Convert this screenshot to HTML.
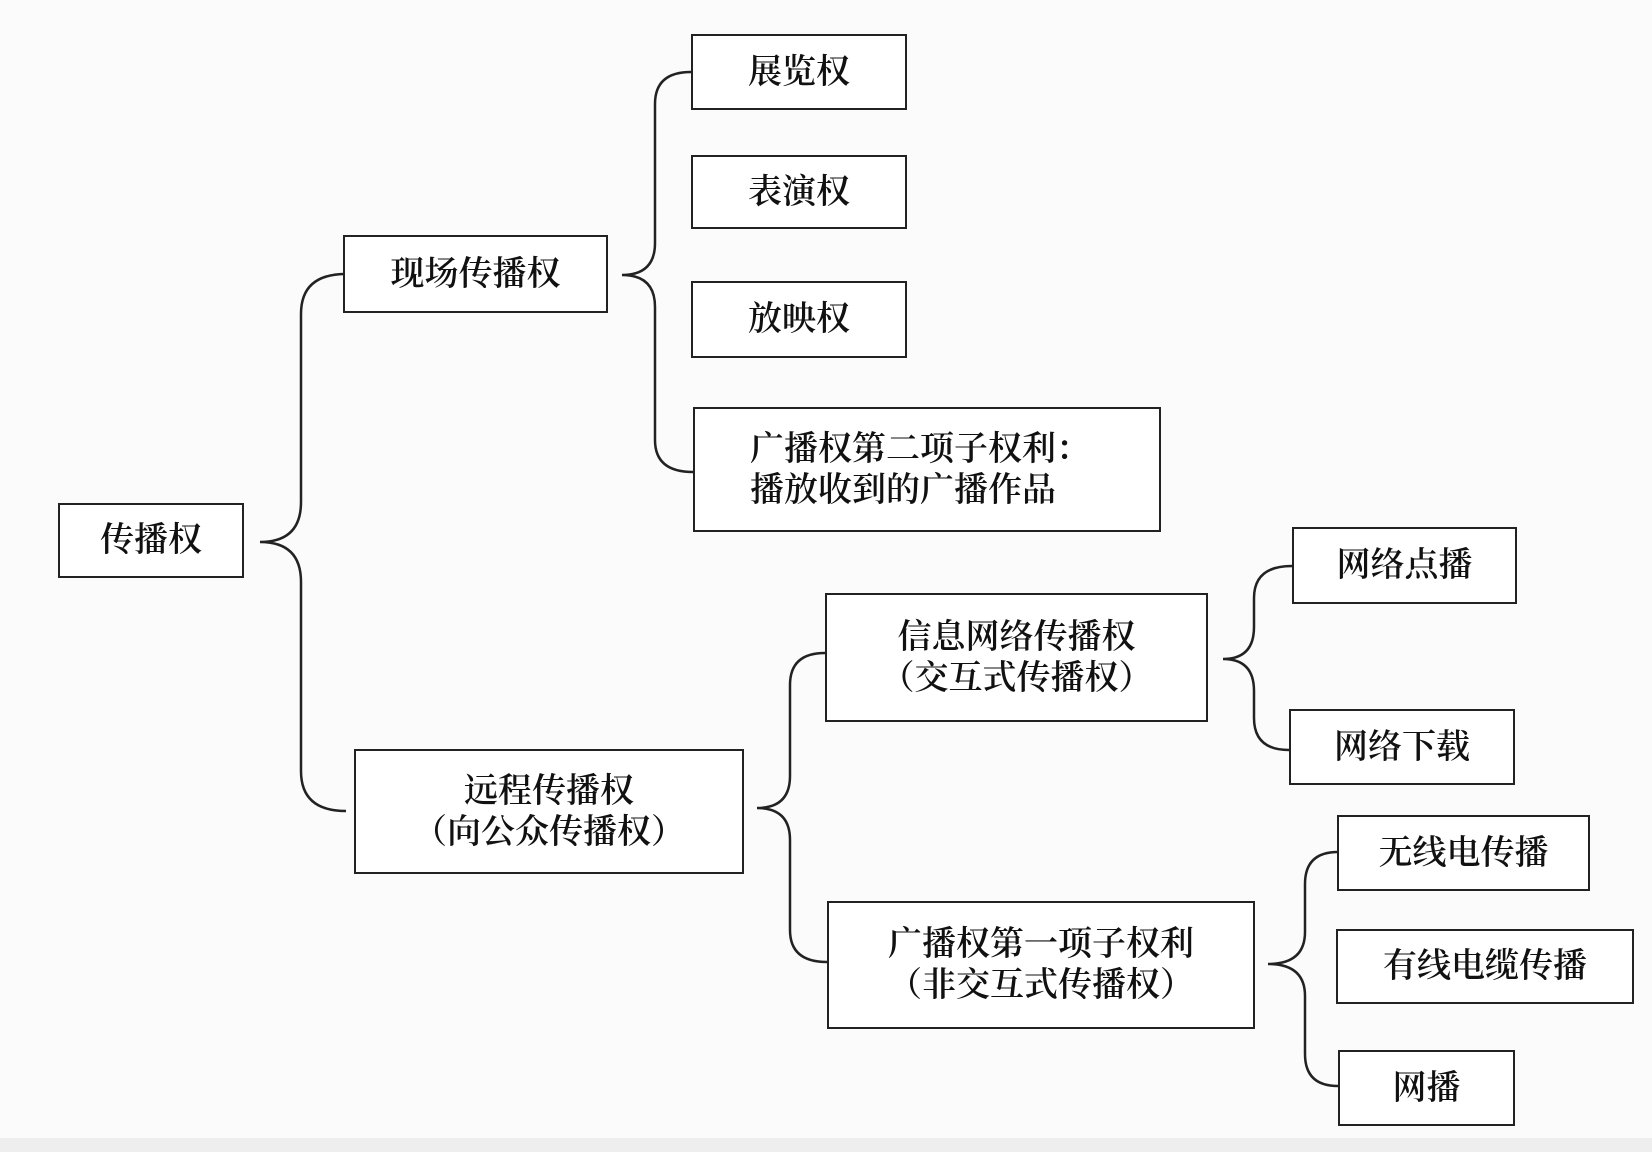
<!DOCTYPE html>
<html><head><meta charset="utf-8"><style>
html,body{margin:0;padding:0;}
body{width:1652px;height:1152px;background:#fbfbfb;position:relative;overflow:hidden;font-family:"Liberation Serif","Noto Serif CJK SC",serif;}
.b{position:absolute;border:2.5px solid #222;box-sizing:border-box;background:#fff;display:flex;align-items:center;justify-content:center;text-align:center;font-size:34px;line-height:41px;color:#111;font-weight:600;}
svg{position:absolute;left:0;top:0;}
.strip{position:absolute;left:0;top:1138px;width:1652px;height:14px;background:#eee;}
</style></head><body>
<svg width="1652" height="1152" fill="none" stroke="#222" stroke-width="2.5">
<path d="M346,274 Q301,274 301,314 L301,502 Q301,542 260,542 Q301,542 301,582 L301,771 Q301,811 346,811"/>
<path d="M691,72 Q655,72 655,104 L655,243 Q655,275 622,275 Q655,275 655,307 L655,440 Q655,472 693,472"/>
<path d="M825,653 Q790,653 790,685 L790,776 Q790,808 757,808 Q790,808 790,840 L790,930 Q790,962 827,962"/>
<path d="M1292,566 Q1254,566 1254,598 L1254,627 Q1254,659 1223,659 Q1254,659 1254,691 L1254,718 Q1254,750 1289,750"/>
<path d="M1338,852 Q1305,852 1305,884 L1305,932 Q1305,964 1268,964 Q1305,964 1305,996 L1305,1054 Q1305,1086 1338,1086"/>
</svg>
<div class="b" style="left:58px;top:503px;width:186px;height:75px;">传播权</div>
<div class="b" style="left:343px;top:235px;width:265px;height:78px;">现场传播权</div>
<div class="b" style="left:691px;top:34px;width:216px;height:76px;">展览权</div>
<div class="b" style="left:691px;top:155px;width:216px;height:74px;">表演权</div>
<div class="b" style="left:691px;top:281px;width:216px;height:77px;">放映权</div>
<div class="b" style="left:693px;top:407px;width:468px;height:125px;text-align:left;justify-content:flex-start;padding-left:55px;">广播权第二项子权利：<br>播放收到的广播作品</div>
<div class="b" style="left:354px;top:749px;width:390px;height:125px;">远程传播权<br>（向公众传播权）</div>
<div class="b" style="left:825px;top:593px;width:383px;height:129px;">信息网络传播权<br>（交互式传播权）</div>
<div class="b" style="left:1292px;top:527px;width:225px;height:77px;">网络点播</div>
<div class="b" style="left:1289px;top:709px;width:226px;height:76px;">网络下载</div>
<div class="b" style="left:827px;top:901px;width:428px;height:128px;">广播权第一项子权利<br>（非交互式传播权）</div>
<div class="b" style="left:1337px;top:815px;width:253px;height:76px;">无线电传播</div>
<div class="b" style="left:1336px;top:929px;width:298px;height:75px;">有线电缆传播</div>
<div class="b" style="left:1338px;top:1050px;width:177px;height:76px;">网播</div>
<div class="strip"></div>
</body></html>
